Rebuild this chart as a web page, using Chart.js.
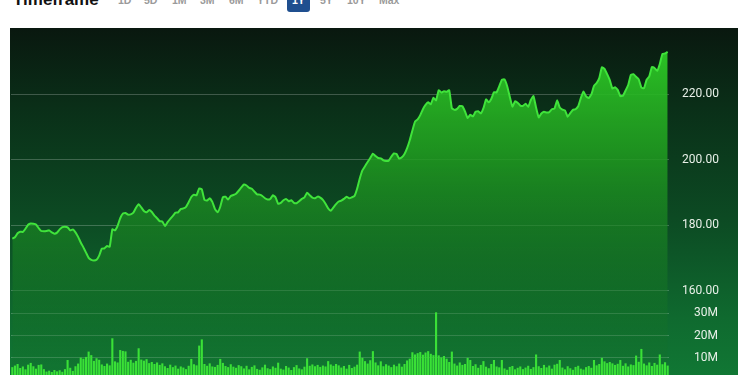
<!DOCTYPE html>
<html>
<head>
<meta charset="utf-8">
<title>1Y price chart</title>
<script src="https://cdn.jsdelivr.net/npm/chart.js@4"></script>
<style>
    html, body { margin: 0; padding: 0; background: #fff; overflow: hidden; width: 750px; height: 375px; }
    .title { position: absolute; left: 13px; top: -9px; font: 700 17px 'Liberation Sans', Arial, sans-serif; color: #111; line-height: 17px; }
    .tf { position: absolute; top: -6px; font: 700 10.5px 'Liberation Sans', Arial, sans-serif; color: #9a9a9a; line-height: 12px; }
    .tf.active { background: #1f4f8f; color: #fff; border-radius: 0 0 3px 3px; padding: 0 5px 6px; }
    .panel { position: absolute; left: 10px; top: 28px; width: 728px; height: 360px;
        background: linear-gradient(to bottom, #09180f 0px, #0a2f18 80px, #0c4a23 190px, #0f6a2f 290px, #117a35 360px); }
    #price-chart { position: absolute; left: 10px; top: 28px; }
</style>
</head>
<body>
<div class="title">Timeframe</div>
<div id="timeframes"></div>
<div class="panel"></div>
<canvas id="price-chart" width="728" height="360"></canvas>
<script>
// timeframe buttons above the chart
const timeframes = ['1D', '5D', '1M', '3M', '6M', 'YTD', '1Y', '5Y', '10Y', 'Max'];
const timeframeLeft = [118, 144, 172, 200, 229, 257, 288, 320, 347, 379];
const activeTimeframe = '1Y';

// daily closes over one year
const prices = [
    176.0, 176.4, 177.6, 178.1, 178.0, 179.0, 180.2, 180.6, 180.5, 180.3,
    179.2, 178.3, 178.2, 178.3, 178.5, 177.9, 177.5, 177.8, 178.8, 179.5,
    179.6, 179.4, 178.5, 178.8, 177.9, 176.5, 174.8, 173.3, 171.7, 170.1,
    169.5, 169.3, 169.5, 170.8, 172.9, 173.0, 173.7, 173.5, 178.8, 178.5,
    179.9, 182.2, 183.6, 183.8, 183.3, 183.4, 183.9, 185.4, 186.5, 185.5,
    184.4, 184.0, 184.7, 184.1, 183.0, 182.2, 181.3, 181.2, 179.8, 181.0,
    182.0, 182.9, 183.9, 184.0, 185.0, 185.2, 185.7, 187.1, 188.7, 189.4,
    189.2, 191.3, 191.0, 187.8, 187.6, 188.3, 187.2, 185.0, 184.0, 185.7,
    188.6, 188.8, 187.9, 189.0, 189.3, 189.7, 190.6, 191.6, 192.5, 192.2,
    191.5, 191.2, 190.3, 189.5, 189.4, 189.0, 188.3, 187.9, 188.1, 189.2,
    188.6, 186.6, 186.9, 187.7, 188.1, 187.4, 187.7, 186.9, 186.8, 187.4,
    188.1, 188.6, 190.0, 189.2, 188.5, 188.3, 188.8, 188.5, 187.8, 186.6,
    185.2, 184.5, 185.5, 186.5, 187.3, 187.6, 188.1, 188.8, 188.3, 188.6,
    189.0, 191.2, 194.3, 196.8, 198.1, 199.4, 200.6, 201.9, 201.2, 200.6,
    200.5, 199.9, 199.7, 199.8, 201.0, 202.0, 201.8, 200.4, 200.8, 201.8,
    203.6, 206.0, 209.0, 211.7, 212.4, 213.7, 215.5, 216.8, 217.6, 217.0,
    219.0, 218.2, 221.3, 220.6, 221.0, 220.8, 221.3, 215.8, 215.3, 215.6,
    216.5, 216.4, 214.8, 212.8, 213.8, 213.3, 214.7, 214.9, 214.2, 215.8,
    218.5, 217.6, 218.7, 220.7, 220.6, 222.5, 224.5, 224.6, 222.6, 219.3,
    216.3, 217.9, 217.5, 216.6, 216.5, 217.2, 216.2, 218.3, 219.5, 216.0,
    213.0, 214.2, 214.7, 214.5, 214.6, 215.5, 215.7, 218.2, 216.0, 215.4,
    215.1, 213.2, 214.3, 215.3, 215.5, 216.4, 218.9, 220.9, 219.4, 218.9,
    220.0, 222.6, 223.5, 225.0, 228.3, 227.8, 226.2, 224.4, 221.8, 222.2,
    221.4, 219.5, 219.6, 221.2, 222.9, 226.0, 226.2, 225.4, 224.6, 222.1,
    221.9, 224.5, 225.5, 228.4, 228.1, 227.2, 229.3, 232.4, 232.5, 233.0
];

// daily volume, millions of shares
const volumes = [
    5.8, 6.5, 7.2, 5.4, 6.1, 4.8, 6.9, 7.7, 6.2, 5.1,
    6.8, 7.0, 4.9, 3.8, 4.2, 3.6, 4.5, 3.9, 4.4, 3.7,
    4.9, 9.0, 5.5, 4.1, 6.2, 7.4, 10.1, 9.6, 10.4, 12.8,
    11.2, 8.6, 9.8, 9.1, 7.0, 6.3, 7.4, 6.6, 18.8, 8.4,
    7.9, 13.5, 13.1, 12.9, 8.2, 9.1, 7.8, 8.6, 14.3, 9.2,
    8.7, 9.4, 7.6, 8.1, 7.2, 7.9, 6.8, 7.5, 6.2, 5.4,
    6.9, 5.8, 6.5, 5.1, 6.1, 5.6, 4.9, 6.4, 9.5, 7.1,
    6.6, 15.5, 18.3, 7.2, 6.4, 7.5, 6.1, 5.9, 6.8, 9.5,
    7.7, 6.3, 5.8, 7.1, 6.0, 5.5, 6.7, 6.2, 5.2, 6.4,
    4.8, 5.9, 6.6, 5.0, 4.6, 5.7, 6.9, 5.3, 4.9, 6.1,
    5.5, 7.8, 5.1, 4.7, 6.3, 5.6, 4.5, 5.8, 6.7, 5.2,
    4.8, 6.0, 9.8, 6.4, 7.0, 6.2, 6.8, 5.9, 6.5, 6.1,
    8.5, 7.0, 6.4, 7.2, 6.6, 5.6, 6.3, 5.1, 6.8, 5.4,
    6.0, 6.9, 12.8, 10.0, 8.5, 7.4, 8.9, 13.0, 7.9, 6.6,
    8.4, 6.2, 7.1, 6.5, 5.8, 6.9, 6.2, 7.4, 6.0, 7.2,
    8.8, 9.6, 12.5, 11.5, 12.1, 12.6, 11.4, 12.4, 13.0, 11.8,
    11.2, 30.5, 11.1, 10.2, 10.8, 9.6, 8.1, 12.8, 7.4, 6.5,
    7.9, 6.8, 7.2, 10.0, 9.0, 6.3, 7.1, 5.5, 6.8, 8.5,
    6.0, 5.3, 7.2, 9.0, 6.1, 5.7, 9.0, 5.2, 4.6, 5.9,
    6.3, 4.8, 5.5, 6.1, 4.9, 5.6, 6.4, 5.0, 5.8, 11.5,
    6.2, 5.4, 6.8, 5.7, 6.5, 5.1, 6.9, 7.3, 9.0, 5.6,
    4.8, 6.2, 5.3, 4.6, 5.9, 6.4, 5.1, 4.7, 5.8, 6.3,
    5.5, 9.0, 6.6, 7.2, 10.0, 8.4, 7.6, 8.1, 7.5, 6.8,
    7.3, 9.0, 6.4, 7.5, 6.1, 7.0, 6.7, 11.0, 8.2, 14.0,
    7.4, 6.6, 7.9, 6.3, 7.7, 6.9, 11.5, 7.1, 8.0, 6.5
];

// tick labels on the right
const priceTicks = [160, 180, 200, 220];
const volumeTicks = [10, 20, 30];

// trading day labels (x axis is hidden)
const days = prices.map((_, i) => 'Day ' + (i + 1));

const tfBox = document.getElementById('timeframes');
timeframes.forEach((tf, i) => {
    const el = document.createElement('span');
    el.className = 'tf' + (tf === activeTimeframe ? ' active' : '');
    el.style.left = (tf === activeTimeframe ? timeframeLeft[i] - 1 : timeframeLeft[i]) + 'px';
    el.textContent = tf;
    tfBox.appendChild(el);
});

const gridColor = 'rgba(255, 255, 255, 0.22)';
const tickFont = { family: 'Roboto, "Liberation Sans", sans-serif', size: 12 };

function areaFill(context) {
    const area = context.chart.chartArea;
    if (!area) return 'rgba(40, 180, 40, 0.8)';
    const g = context.chart.ctx.createLinearGradient(0, area.top + 20, 0, area.bottom);
    g.addColorStop(0, 'rgba(46, 204, 38, 0.95)');
    g.addColorStop(0.34, 'rgba(32, 155, 32, 0.85)');
    g.addColorStop(0.73, 'rgba(22, 118, 36, 0.5)');
    g.addColorStop(1, 'rgba(20, 110, 45, 0.2)');
    return g;
}

// axis boxes keep their width but add no vertical padding to the plot
function fixAxis(width) {
    return s => {
        s.width = width;
        s.paddingTop = 0;
        s.paddingBottom = 0;
    };
}

const ctx = document.getElementById('price-chart').getContext('2d');
const chart = new Chart(ctx, {
    data: {
        labels: days,
        datasets: [{
            type: 'line',
            label: 'Price',
            data: prices,
            yAxisID: 'price',
            borderColor: '#40e33b',
            borderWidth: 2,
            pointRadius: 0,
            tension: 0.12,
            fill: 'start',
            backgroundColor: areaFill,
            order: 2
        }, {
            type: 'bar',
            label: 'Volume',
            data: volumes,
            yAxisID: 'volume',
            backgroundColor: '#3ae037',
            barPercentage: 0.8,
            categoryPercentage: 1,
            order: 1
        }]
    },
    options: {
        responsive: false,
        animation: false,
        layout: { autoPadding: false, padding: { left: 1, right: 0, top: 0, bottom: 8 } },
        plugins: {
            legend: { display: false },
            tooltip: { enabled: false }
        },
        scales: {
            x: { display: false },
            price: {
                position: 'right',
                weight: 0,
                min: 132.8,
                max: 240.3,
                afterFit: fixAxis(69),
                afterBuildTicks: s => { s.ticks = priceTicks.map(v => ({ value: v })); },
                grid: { color: gridColor, drawTicks: false },
                border: { display: false },
                ticks: { padding: 13, color: '#e8f0e8', font: tickFont, callback: v => v.toFixed(2) }
            },
            // volume box sits at the canvas edge, labels mirrored back and right aligned
            volume: {
                position: 'right',
                weight: 1,
                min: 0,
                max: 158.6,
                afterFit: fixAxis(0),
                afterBuildTicks: s => { s.ticks = volumeTicks.map(v => ({ value: v })); },
                grid: { color: gridColor, drawTicks: false },
                border: { display: false },
                ticks: { mirror: true, padding: -20, color: '#e8f0e8', font: tickFont, callback: v => v + 'M' }
            }
        }
    }
});
</script>
</body>
</html>
